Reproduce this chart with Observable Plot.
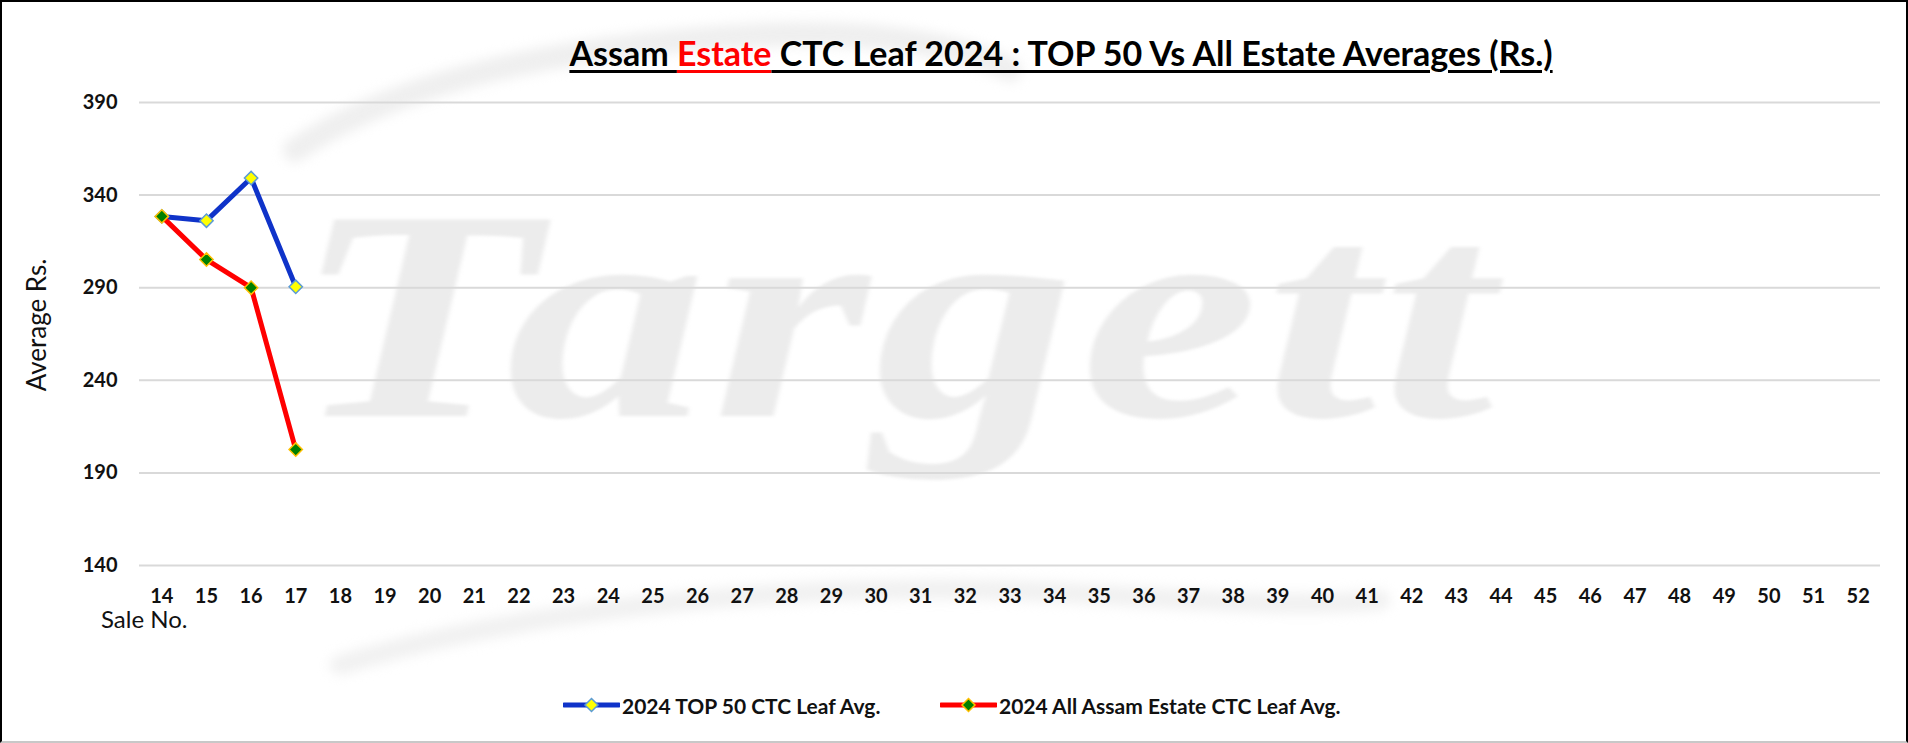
<!DOCTYPE html>
<html><head><meta charset="utf-8">
<script src="https://cdn.jsdelivr.net/npm/d3@7"></script>
<script src="https://cdn.jsdelivr.net/npm/@observablehq/plot@0.6"></script>
<style>
html,body{margin:0;padding:0;background:#fff;}
#wrap{position:relative;width:1908px;height:743px;overflow:hidden;font-family:Lato,"Open Sans",sans-serif;background:#fff;}
#border{position:absolute;left:0;top:0;width:1904px;height:739px;border:2px solid #000;border-bottom-color:#c8c8c8;z-index:5;pointer-events:none;}
#wm{position:absolute;left:292px;top:165px;font-family:"Liberation Serif",serif;font-weight:bold;font-style:italic;font-size:300px;line-height:1;color:#ececec;letter-spacing:4px;white-space:nowrap;z-index:0;transform-origin:0 0;transform:scaleX(1.34);filter:blur(1.5px);}
#swirl{position:absolute;left:0;top:0;z-index:0;filter:blur(6px);}
#chart{position:absolute;left:0;top:0;z-index:1;}
#title{position:absolute;left:1061px;top:33px;transform:translateX(-50%);font-size:34px;font-weight:bold;white-space:nowrap;color:#000;z-index:2;line-height:1.2;}
#title span{text-decoration:underline;text-decoration-thickness:3px;text-underline-offset:4px;}
#ylab{position:absolute;left:36px;top:325px;transform:translate(-50%,-50%) rotate(-90deg);font-size:26px;white-space:nowrap;color:#111;z-index:2;}
#xlab{position:absolute;left:101px;top:605px;font-size:24px;line-height:1.2;white-space:nowrap;color:#111;z-index:2;}
.leg{position:absolute;top:693px;height:24px;display:flex;align-items:center;font-size:21px;font-weight:bold;color:#111;white-space:nowrap;z-index:2;}
.leg svg{margin-right:2px;}
</style>
</head><body>
<div id="wrap">
  <svg id="swirl" width="1908" height="743">
    <path d="M295,150 C400,80 560,45 760,35 C880,30 960,45 1010,70" fill="none" stroke="#efefef" stroke-width="24" stroke-linecap="round"/>
    <path d="M340,665 C520,610 760,585 1000,590 C1150,595 1280,610 1380,600" fill="none" stroke="#f1f1f1" stroke-width="20" stroke-linecap="round"/>
  </svg>
  <div id="wm">Targett</div>
  <div id="chart"></div>
  <div id="title"></div>
  <div id="ylab"></div>
  <div id="xlab"></div>
  <div id="legend"></div>
  <div id="border"></div>
</div>
<script>
// ---- data ----
const saleNos = [14,15,16,17,18,19,20,21,22,23,24,25,26,27,28,29,30,31,32,33,34,35,36,37,38,39,40,41,42,43,44,45,46,47,48,49,50,51,52];
const dataSales = [14, 15, 16, 17];
const top50Avg = [328.5, 326.2, 349.2, 290.5];
const allEstateAvg = [328.5, 305.2, 290.0, 202.6];
const yTicks = [140, 190, 240, 290, 340, 390];
const seriesNames = ["2024 TOP 50 CTC Leaf Avg.", "2024 All Assam Estate CTC Leaf Avg."];
const titleParts = ["Assam ", "Estate", " CTC Leaf 2024 : TOP 50 Vs All Estate Averages (Rs.)"];
const yLabel = "Average Rs.";
const xLabel = "Sale No.";

const topData = dataSales.map((s, i) => ({sale: s, value: top50Avg[i]}));
const allData = dataSales.map((s, i) => ({sale: s, value: allEstateAvg[i]}));

const BLUE = "#0f33c9", RED = "#ff0000";

const chart = Plot.plot({
  width: 1908, height: 743,
  marginLeft: 139, marginRight: 28, marginTop: 102, marginBottom: 178,
  style: {background: "transparent", fontFamily: "Lato, 'Open Sans', sans-serif", fontSize: "20px", fontWeight: "bold", color: "#111", overflow: "visible"},
  x: {type: "linear", domain: [saleNos[0] - 0.5, saleNos[saleNos.length - 1] + 0.5], ticks: saleNos, tickFormat: d => String(d), label: null, tickSize: 0, tickPadding: 23},
  y: {domain: [140, 390], ticks: yTicks, label: null, tickSize: 0, tickPadding: 22},
  marks: [
    Plot.ruleY(yTicks, {stroke: "#d9d9d9", strokeWidth: 2}),
    Plot.line(topData, {x: "sale", y: "value", stroke: BLUE, strokeWidth: 5}),
    Plot.dot(topData, {x: "sale", y: "value", symbol: "diamond2", r: 6, fill: "#ffff00", stroke: "#5b9bd5", strokeWidth: 1.5}),
    Plot.line(allData, {x: "sale", y: "value", stroke: RED, strokeWidth: 5}),
    Plot.dot(allData, {x: "sale", y: "value", symbol: "diamond2", r: 6, fill: "#008000", stroke: "#ffc000", strokeWidth: 1.5})
  ]
});
document.getElementById("chart").appendChild(chart);

// title
const t = document.getElementById("title");
titleParts.forEach((p, i) => {
  const s = document.createElement("span");
  s.textContent = p;
  if (i === 1) s.style.color = RED;
  t.appendChild(s);
});
document.getElementById("ylab").textContent = yLabel;
document.getElementById("xlab").textContent = xLabel;

// legend
const legendSpec = [
  {name: seriesNames[0], left: 563, line: BLUE, fill: "#ffff00", stroke: "#5b9bd5"},
  {name: seriesNames[1], left: 940, line: RED, fill: "#008000", stroke: "#ffc000"}
];
const lg = document.getElementById("legend");
legendSpec.forEach(d => {
  const div = document.createElement("div");
  div.className = "leg";
  div.style.left = d.left + "px";
  div.innerHTML = `<svg width="57" height="20"><line x1="1" x2="56" y1="10" y2="10" stroke="${d.line}" stroke-width="5" stroke-linecap="round"/><path d="M28.5,3.5L35,10L28.5,16.5L22,10Z" fill="${d.fill}" stroke="${d.stroke}" stroke-width="1.5"/></svg>`;
  const sp = document.createElement("span");
  sp.textContent = d.name;
  div.appendChild(sp);
  lg.appendChild(div);
});
</script>
</body></html>
